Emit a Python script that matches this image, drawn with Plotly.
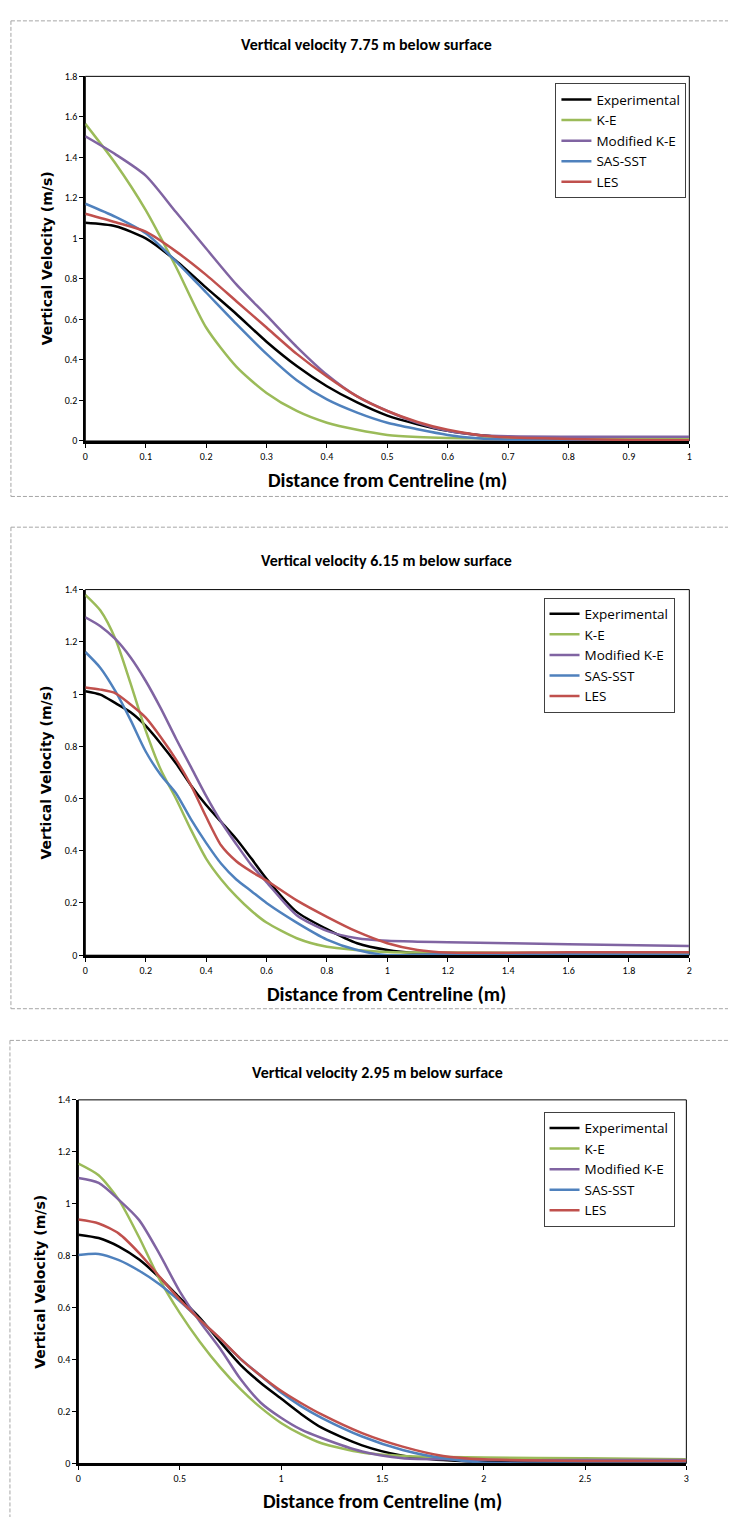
import plotly.graph_objects as go

W, H = 731, 1524

# ---------------- DATA ----------------
names = ["Experimental", "K-E", "Modified K-E", "SAS-SST", "LES"]
colors = ["#000000", "#9BBB59", "#8064A2", "#4F81BD", "#C0504D"]

titles = ["Vertical velocity 7.75 m below surface",
          "Vertical velocity 6.15 m below surface",
          "Vertical velocity 2.95 m below surface"]

# Panel 1 (7.75 m)
p1_x = [0, 0.05, 0.1, 0.15, 0.2, 0.25, 0.3, 0.35, 0.4, 0.45, 0.5, 0.55, 0.6, 0.65, 0.7, 0.8, 0.9, 1.0]
p1_exp = [1.077, 1.06, 1.0, 0.89, 0.757, 0.627, 0.49, 0.37, 0.27, 0.19, 0.125, 0.083, 0.05, 0.03, 0.02, 0.015, 0.013, 0.012]
p1_ke = [1.566, 1.37, 1.14, 0.86, 0.56, 0.367, 0.237, 0.148, 0.09, 0.055, 0.03, 0.02, 0.015, 0.013, 0.012, 0.011, 0.01, 0.01]
p1_mke = [1.504, 1.415, 1.31, 1.13, 0.95, 0.773, 0.62, 0.465, 0.327, 0.22, 0.148, 0.09, 0.05, 0.03, 0.023, 0.021, 0.021, 0.021]
p1_sas = [1.171, 1.106, 1.025, 0.887, 0.733, 0.578, 0.43, 0.30, 0.205, 0.14, 0.09, 0.058, 0.03, 0.013, 0.006, 0.003, 0.003, 0.003]
p1_les = [1.122, 1.08, 1.033, 0.936, 0.82, 0.69, 0.56, 0.43, 0.318, 0.22, 0.148, 0.094, 0.055, 0.03, 0.018, 0.01, 0.005, 0.003]

# Panel 2 (6.15 m)
p2_x = [0, 0.05, 0.1, 0.15, 0.2, 0.25, 0.3, 0.35, 0.4, 0.45, 0.5, 0.55, 0.6, 0.7, 0.8, 0.9, 1.0, 1.1, 1.2, 1.6, 2.0]
p2_exp = [1.011, 0.998, 0.965, 0.93, 0.878, 0.81, 0.735, 0.65, 0.575, 0.51, 0.445, 0.37, 0.293, 0.166, 0.10, 0.046, 0.02, 0.008, 0.005, 0.005, 0.005]
p2_ke = [1.38, 1.32, 1.21, 1.04, 0.86, 0.71, 0.60, 0.48, 0.37, 0.29, 0.225, 0.17, 0.125, 0.065, 0.032, 0.02, 0.012, 0.01, 0.01, 0.009, 0.008]
p2_mke = [1.294, 1.26, 1.21, 1.14, 1.05, 0.945, 0.83, 0.72, 0.61, 0.51, 0.425, 0.345, 0.28, 0.153, 0.093, 0.065, 0.055, 0.052, 0.05, 0.042, 0.035]
p2_sas = [1.161, 1.10, 1.01, 0.90, 0.78, 0.69, 0.62, 0.52, 0.43, 0.35, 0.29, 0.245, 0.20, 0.125, 0.06, 0.02, 0.0, 0.002, 0.005, 0.004, 0.003]
p2_les = [1.025, 1.017, 1.003, 0.96, 0.91, 0.835, 0.75, 0.65, 0.53, 0.42, 0.36, 0.32, 0.286, 0.21, 0.147, 0.09, 0.046, 0.02, 0.01, 0.011, 0.011]

# Panel 3 (2.95 m)
p3_x = [0, 0.1, 0.2, 0.3, 0.4, 0.5, 0.6, 0.7, 0.8, 0.9, 1.0, 1.1, 1.2, 1.4, 1.6, 1.8, 2.0, 2.5, 3.0]
p3_exp = [0.881, 0.868, 0.835, 0.785, 0.716, 0.638, 0.56, 0.468, 0.38, 0.31, 0.25, 0.19, 0.138, 0.07, 0.03, 0.013, 0.006, 0.003, 0.002]
p3_ke = [1.155, 1.11, 1.015, 0.87, 0.71, 0.58, 0.468, 0.37, 0.286, 0.215, 0.156, 0.112, 0.078, 0.042, 0.029, 0.025, 0.023, 0.02, 0.016]
p3_mke = [1.099, 1.08, 1.015, 0.937, 0.807, 0.663, 0.546, 0.442, 0.325, 0.234, 0.176, 0.13, 0.098, 0.046, 0.02, 0.016, 0.013, 0.013, 0.013]
p3_sas = [0.803, 0.807, 0.783, 0.742, 0.69, 0.625, 0.553, 0.48, 0.403, 0.338, 0.273, 0.22, 0.176, 0.104, 0.052, 0.02, 0.003, 0.0, 0.0]
p3_les = [0.939, 0.924, 0.885, 0.81, 0.72, 0.631, 0.553, 0.481, 0.403, 0.338, 0.28, 0.232, 0.189, 0.117, 0.065, 0.029, 0.016, 0.01, 0.01]

x_ranges = [[0, 1], [0, 2], [0, 3]]
x_dticks = [0.1, 0.2, 0.5]
y_ranges = [[0, 1.8], [0, 1.4], [0, 1.4]]
y_dtick = 0.2

x_title = "Distance from Centreline (m)"
y_title = "Vertical Velocity (m/s)"

panels = [
    (p1_x, [p1_exp, p1_ke, p1_mke, p1_sas, p1_les]),
    (p2_x, [p2_exp, p2_ke, p2_mke, p2_sas, p2_les]),
    (p3_x, [p3_exp, p3_ke, p3_mke, p3_sas, p3_les]),
]

# ---------------- LAYOUT (pixel boxes) ----------------
def px(x):
    return x / W

def py(y):
    return 1 - y / H

plot_boxes = [(83, 692, 70, 438), (83, 692, 588, 957), (76, 689, 1103, 1470)]
legend_pos = [(557, 77), (545, 596), (545, 1115)]
title_pos = [(367, 38), (387, 559), (378, 1075)]
xtitle_pos = [(388, 477), (387, 996), (383, 1508)]
ytitle_pos = [(44, 254), (43, 773), (37, 1287)]
# (left x, top y, bottom y or None)
frames = [(8, 14, 494), (8, 525, 1011), (7, 1043, None)]

CAL = "Carlito, Lato, sans-serif"
LEG = "'Open Sans', Lato, sans-serif"

fig = go.Figure()
layout = dict(
    width=W, height=H, margin=dict(l=0, r=0, t=0, b=0),
    paper_bgcolor="white", plot_bgcolor="white",
    font=dict(family=CAL, color="black"),
    shapes=[], annotations=[],
)

dash_line = dict(color="#a6a6a6", width=1, dash="4px,2px")

for i, (xs, series) in enumerate(panels):
    k = "" if i == 0 else str(i + 1)
    lg = "legend" if i == 0 else "legend" + k
    for name, col, ys in zip(names, colors, series):
        fig.add_trace(go.Scatter(
            x=xs, y=ys, name=name, mode="lines",
            line=dict(color=col, width=2.5, shape="spline", smoothing=0.7),
            xaxis="x" + k, yaxis="y" + k, legend=lg,
        ))
    x0, x1, y0, y1 = plot_boxes[i]
    layout["xaxis" + k] = dict(
        domain=[px(x0), px(x1)], anchor="y" + k, range=x_ranges[i],
        dtick=x_dticks[i], tick0=0, showgrid=False, zeroline=False,
        showline=True, linecolor="black", linewidth=2.5,
        ticks="outside", ticklen=4, tickcolor="black", tickwidth=1,
        tickfont=dict(family=CAL, size=10, color="black"),
    )
    layout["yaxis" + k] = dict(
        domain=[py(y1), py(y0)], anchor="x" + k, range=y_ranges[i],
        dtick=y_dtick, tick0=0, showgrid=False, zeroline=False,
        showline=True, linecolor="black", linewidth=2,
        ticks="outside", ticklen=4, tickcolor="black", tickwidth=1,
        tickfont=dict(family=CAL, size=10, color="black"),
    )
    # plot area border
    layout["shapes"].append(dict(
        type="rect", xref="x" + k + " domain", yref="y" + k + " domain",
        x0=0, x1=1, y0=0, y1=1, line=dict(color="black", width=1), layer="below",
    ))
    # dashed outer frame (top, left, bottom)
    fx, fy0, fy1 = frames[i]
    ybot = fy1 if fy1 is not None else H
    layout["shapes"].append(dict(type="line", xref="paper", yref="paper",
                                 x0=px(fx), x1=1, y0=py(fy0), y1=py(fy0), line=dash_line))
    layout["shapes"].append(dict(type="line", xref="paper", yref="paper",
                                 x0=px(fx), x1=px(fx), y0=py(fy0), y1=py(ybot), line=dash_line))
    if fy1 is not None:
        layout["shapes"].append(dict(type="line", xref="paper", yref="paper",
                                     x0=px(fx), x1=1, y0=py(fy1), y1=py(fy1), line=dash_line))
    lx, ly = legend_pos[i]
    layout[lg] = dict(
        x=px(lx), y=py(ly), xanchor="left", yanchor="top",
        bordercolor="#404040", borderwidth=1, bgcolor="white",
        font=dict(family=LEG, size=13.5, color="black"),
        itemwidth=30, tracegroupgap=0, traceorder="normal",
    )
    tx, ty = title_pos[i]
    layout["annotations"].append(dict(
        text="<b>" + titles[i] + "</b>", xref="paper", yref="paper",
        x=px(tx), y=py(ty), xanchor="center", yanchor="middle", showarrow=False,
        font=dict(family=CAL, size=16, color="black"),
    ))
    ax_, ay_ = xtitle_pos[i]
    layout["annotations"].append(dict(
        text="<b>" + x_title + "</b>", xref="paper", yref="paper",
        x=px(ax_), y=py(ay_), xanchor="center", yanchor="middle", showarrow=False,
        font=dict(family=CAL, size=20, color="black"),
    ))
    bx, by = ytitle_pos[i]
    layout["annotations"].append(dict(
        text="<b>" + y_title + "</b>", xref="paper", yref="paper",
        x=px(bx), y=py(by), xanchor="center", yanchor="middle", showarrow=False,
        textangle=-90,
        font=dict(family="'DejaVu Sans', sans-serif", size=14, color="black"),
    ))

fig.update_layout(**layout)
fig.write_html(
    "out.html",
    config={"displayModeBar": False},
    post_script="document.body.style.margin='0';document.body.style.padding='0';",
)
